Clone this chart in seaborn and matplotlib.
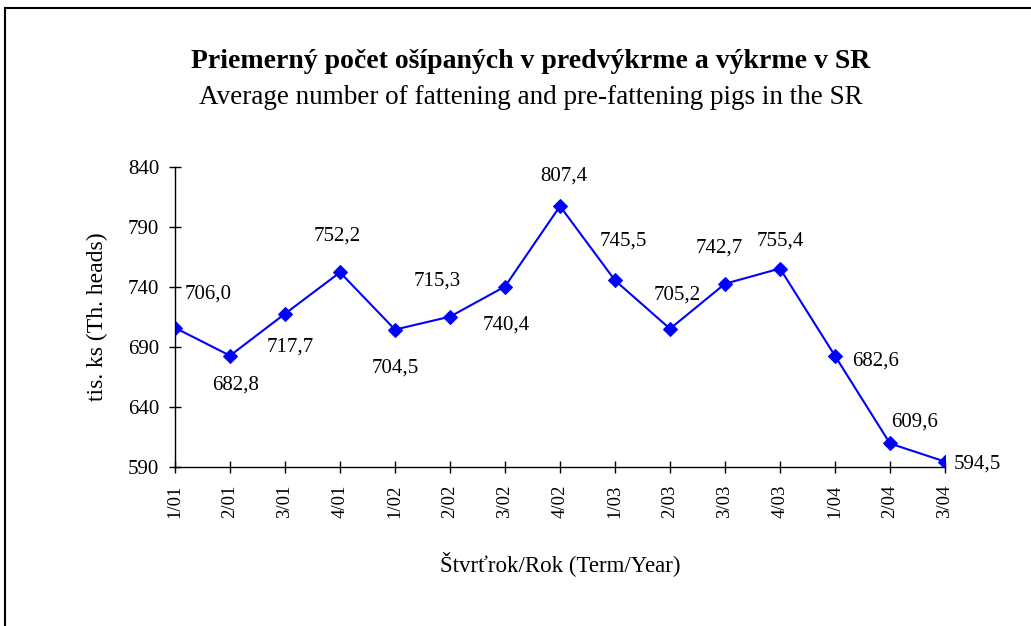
import matplotlib.pyplot as plt
import matplotlib.patches as patches
import pandas as pd
import seaborn as sns

# Data
quarters = ["1/01", "2/01", "3/01", "4/01", "1/02", "2/02", "3/02", "4/02",
            "1/03", "2/03", "3/03", "4/03", "1/04", "2/04", "3/04"]
pigs = [706.0, 682.8, 717.7, 752.2, 704.5, 715.3, 740.4, 807.4,
        745.5, 705.2, 742.7, 755.4, 682.6, 609.6, 594.5]
y_ticks = [590, 640, 690, 740, 790, 840]

# label offsets in pixels (dx, dy) from each point
label_offsets = [(33, 34), (6, -29), (5, -33), (-3, 36), (0, -38), (-13, 36),
                 (1, -39), (4, 30), (8, 39), (7, 34), (-6, 36), (0, 27),
                 (41, -5), (25, 21), (32, -2)]

df = pd.DataFrame({"pos": range(len(quarters)), "value": pigs})

sns.set_style("ticks")
plt.rcParams["font.family"] = ["Liberation Serif", "DejaVu Serif"]
plt.rcParams["text.color"] = "black"
plt.rcParams["axes.labelcolor"] = "black"

fig = plt.figure(figsize=(10.31, 6.26), dpi=100)
ax = fig.add_axes([175 / 1031, 1 - 467 / 626, 770 / 1031, 300 / 626])

sns.lineplot(data=df, x="pos", y="value", ax=ax, sort=False, color="#0000FF",
             linewidth=1.5, marker="D", markersize=7, markeredgecolor="#0000FF")

for i, v in enumerate(pigs):
    dx, dy = label_offsets[i]
    ax.annotate(f"{v:.1f}".replace(".", ","), (i, v), xytext=(dx, dy),
                textcoords="offset pixels", ha="center", va="center",
                fontsize=15, color="black", annotation_clip=False)

ax.set_xlim(0, len(quarters) - 1)
ax.set_ylim(590, 840)
ax.set_xticks(range(len(quarters)))
ax.set_xticklabels(quarters, rotation=90, fontsize=13.5)
ax.set_yticks(y_ticks)
ax.set_yticklabels([str(t) for t in y_ticks], fontsize=15)
ax.tick_params(direction="inout", length=9, width=1, colors="black", labelcolor="black")
ax.tick_params(axis="x", pad=8)
ax.tick_params(axis="y", pad=7)
ax.spines["top"].set_visible(False)
ax.spines["right"].set_visible(False)
for s in ["left", "bottom"]:
    ax.spines[s].set_color("black")
    ax.spines[s].set_linewidth(1)
ax.set_xlabel("Štvrťrok/Rok (Term/Year)", fontsize=16.5, labelpad=24)
ax.set_ylabel("tis. ks (Th. heads)", fontsize=17, labelpad=14)

fig.text(531 / 1031, 1 - 62 / 626, "Priemerný počet ošípaných v predvýkrme a výkrme v SR",
         ha="center", va="center", fontsize=20, fontweight="bold", color="black")
fig.text(531 / 1031, 1 - 97 / 626, "Average number of fattening and pre-fattening pigs in the SR",
         ha="center", va="center", fontsize=19.5, color="black")

border = patches.Rectangle((5 / 1031, -0.1), 1.2, 1 - 8 / 626 + 0.1,
                           transform=fig.transFigure, fill=False,
                           edgecolor="black", linewidth=1.5)
fig.patches.append(border)

fig.savefig("out.png", dpi=100)
